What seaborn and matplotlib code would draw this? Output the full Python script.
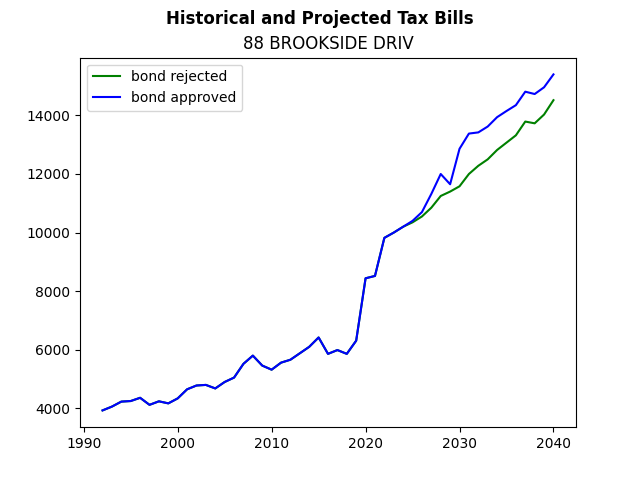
import matplotlib
matplotlib.use("Agg")
import matplotlib.pyplot as plt
import seaborn as sns
import pandas as pd

years = list(range(1992, 2041))
hist = [3930, 4060, 4230, 4250, 4360, 4120, 4240, 4170, 4340, 4650,
        4780, 4800, 4680, 4900, 5050, 5520, 5800, 5460, 5320, 5560,
        5660, 5880, 6100, 6420, 5860, 5990, 5860, 6310, 8440, 8520,
        9820, 10000, 10200]
rejected_future = [10350, 10550, 10850, 11250, 11400, 11580, 12000, 12280,
                   12500, 12820, 13070, 13320, 13790, 13730, 14030, 14520]
approved_future = [10400, 10700, 11320, 12000, 11650, 12860, 13380, 13420,
                   13620, 13940, 14150, 14350, 14810, 14730, 14960, 15400]

rejected = hist + rejected_future
approved = hist + approved_future

df = pd.DataFrame({
    "year": years * 2,
    "bill": rejected + approved,
    "scenario": ["bond rejected"] * len(years) + ["bond approved"] * len(years),
})

fig, ax = plt.subplots(figsize=(6.4, 4.8), dpi=100)
sns.lineplot(data=df, x="year", y="bill", hue="scenario",
             palette={"bond rejected": "green", "bond approved": "blue"}, ax=ax)
ax.set_xlabel("")
ax.set_ylabel("")
ax.legend(loc="upper left")
ax.set_title("88 BROOKSIDE DRIV")
fig.suptitle("Historical and Projected Tax Bills", fontweight="bold")
fig.savefig("out.png", dpi=100)
